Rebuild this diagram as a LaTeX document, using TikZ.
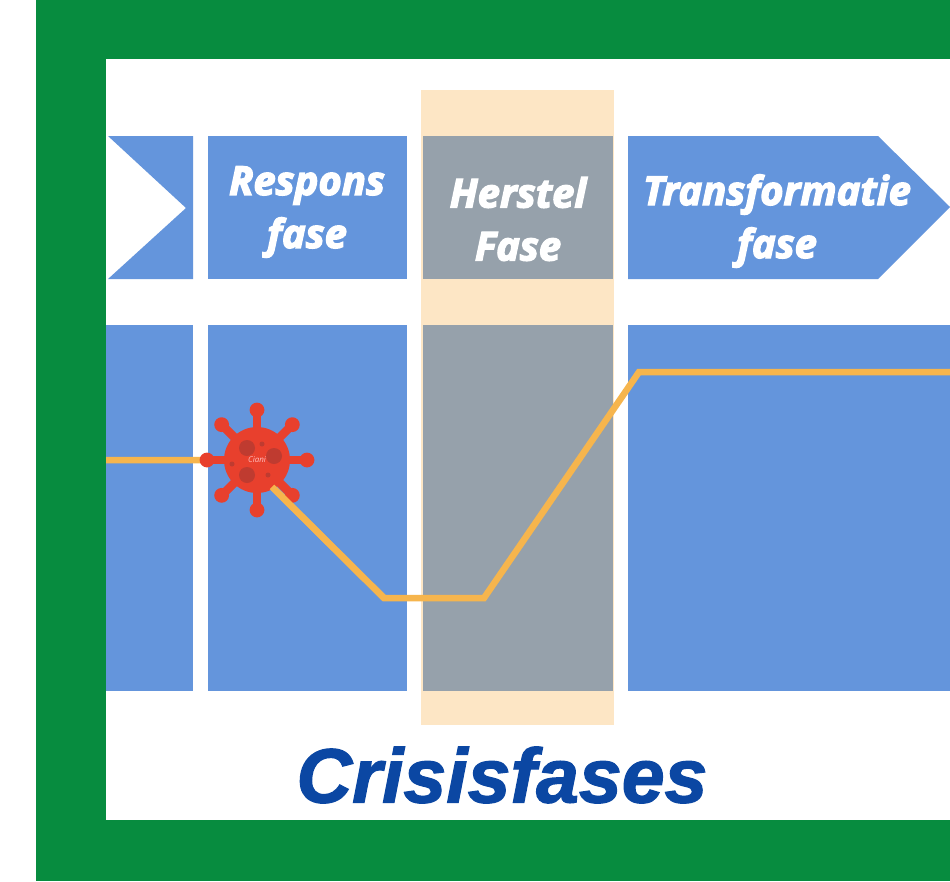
\documentclass[tikz,border=0pt]{standalone}
\usepackage{fontspec}
\setmainfont{Open Sans}
\newfontfamily\titlefont{Liberation Sans}[FakeBold=1.6]
\newfontfamily\phasefont{Open Sans}[FakeBold=3.4]
\definecolor{frame}{HTML}{078C3F}
\definecolor{phase}{HTML}{6495DC}
\definecolor{greyphase}{HTML}{96A1AB}
\definecolor{band}{HTML}{FDE6C5}
\definecolor{curve}{HTML}{F6B54D}
\definecolor{virus}{HTML}{E8402D}
\definecolor{virusdark}{HTML}{BF3B30}
\definecolor{titleblue}{HTML}{0B47A3}
\tikzset{
  panel/.style={fill=phase,draw=none},
  greypanel/.style={fill=greyphase,draw=none},
  phaselabel/.style={text=white,align=center,font=\phasefont\bfseries\itshape\fontsize{40}{53}\selectfont,inner sep=0pt},
  curveline/.style={draw=curve,line width=6.5pt,line join=miter},
  spike/.style={draw=virus,line width=8.5pt},
  knob/.style={fill=virus,draw=none},
  spot/.style={fill=virusdark,draw=none}
}
\begin{document}
\begin{tikzpicture}[x=1pt,y=-1pt]
\useasboundingbox (0,0) rectangle (950,881);
\fill[white] (0,0) rectangle (950,881);
\fill[frame] (36,0) rectangle (950,881);
\fill[white] (106,59) rectangle (950,820);
% highlight band
\fill[band] (421,90) rectangle (614,725);
% upper row
\fill[panel] (108,136) -- (193,136) -- (193,279) -- (108,279) -- (186,208) -- cycle;
\fill[panel] (208,136) rectangle (407,279);
\fill[greypanel] (423,136) rectangle (613,279);
\fill[panel] (628,136) -- (878,136) -- (950,207) -- (878,279) -- (628,279) -- cycle;
% lower row
\fill[panel] (106,325) rectangle (193,691);
\fill[panel] (208,325) rectangle (407,691);
\fill[greypanel] (423,325) rectangle (613,691);
\fill[panel] (628,325) rectangle (950,691);
% labels
\node[phaselabel] (respons) at (307,212) {Respons\\fase};
\node[phaselabel] (herstel) at (518,219) {Herstel\\Fase};
\node[phaselabel] (transformatie) at (777,221) {Transformatie\\fase};
% curve
\coordinate (c0) at (106,460);
\coordinate (c1) at (245,460);
\coordinate (c2) at (384,598);
\coordinate (c3) at (484,598);
\coordinate (c4) at (639,372);
\coordinate (c5) at (950,372);
\draw[curveline] (c0) -- (c1) -- (c2) -- (c3) -- (c4) -- (c5);
% virus
\begin{scope}[shift={(257,460)}]
  \foreach \a in {0,45,...,315}{
    \draw[spike] (0,0) -- (\a:50);
    \fill[knob] (\a:50) circle (7.4);
  }
  \fill[virus] (0,0) circle (33);
  \fill[spot] (-10,-12) circle (8);
  \fill[spot] (17,-4) circle (8);
  \fill[spot] (-10,15) circle (8);
  \fill[spot] (5,-16) circle (2.5);
  \fill[spot] (-25,4) circle (2.5);
  \fill[spot] (11,15) circle (2.5);
  \node[text=pink,font=\fontsize{8}{9}\selectfont\itshape,inner sep=0pt] (ciani) at (0,0) {Ciani};
\end{scope}
% the curve leaves the virus on top of its lower right spike
\draw[curveline] (272,486.9) -- (c2);
% title
\node[text=titleblue,font=\titlefont\bfseries\itshape\fontsize{77}{88}\selectfont,inner sep=0pt] (title) at (502,775) {Crisisfases};
\end{tikzpicture}
\end{document}
